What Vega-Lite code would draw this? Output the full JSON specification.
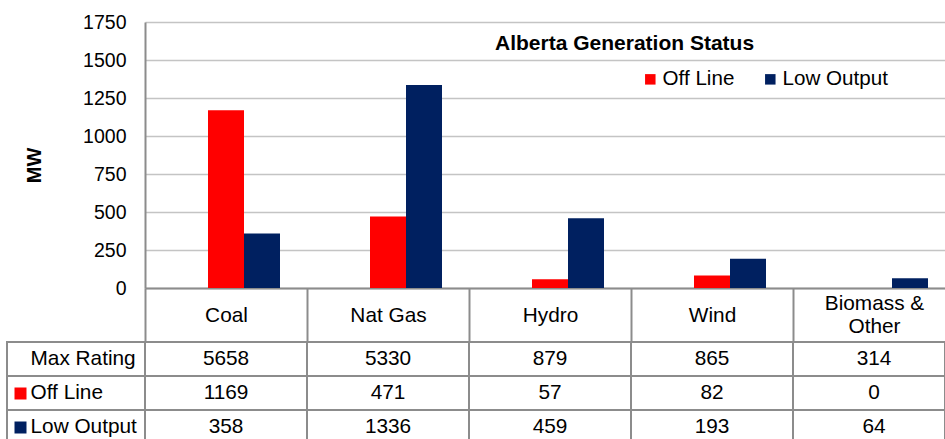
{
  "$schema": "https://vega.github.io/schema/vega-lite/v6.json",
  "width": 938,
  "height": 266,
  "autosize": {"type": "none"},
  "padding": {"left": 7, "top": 22, "right": 0, "bottom": 151},
  "background": "white",
  "config": {
    "font": "Liberation Sans",
    "view": {"stroke": null},
    "axis": {"labelColor": "#000000", "titleColor": "#000000"}
  },
  "title": {
    "text": "Alberta Generation Status",
    "fontSize": 21,
    "fontWeight": "bold",
    "color": "#000000",
    "anchor": "start",
    "frame": "group",
    "dx": 488,
    "offset": -42
  },
  "data": {
    "values": [
      {"cat": "Coal", "series": "Max Rating", "value": 5658},
      {"cat": "Coal", "series": "Off Line", "value": 1169},
      {"cat": "Coal", "series": "Low Output", "value": 358},
      {"cat": "Nat Gas", "series": "Max Rating", "value": 5330},
      {"cat": "Nat Gas", "series": "Off Line", "value": 471},
      {"cat": "Nat Gas", "series": "Low Output", "value": 1336},
      {"cat": "Hydro", "series": "Max Rating", "value": 879},
      {"cat": "Hydro", "series": "Off Line", "value": 57},
      {"cat": "Hydro", "series": "Low Output", "value": 459},
      {"cat": "Wind", "series": "Max Rating", "value": 865},
      {"cat": "Wind", "series": "Off Line", "value": 82},
      {"cat": "Wind", "series": "Low Output", "value": 193},
      {"cat": "Biomass & Other", "series": "Max Rating", "value": 314},
      {"cat": "Biomass & Other", "series": "Off Line", "value": 0},
      {"cat": "Biomass & Other", "series": "Low Output", "value": 64}
    ]
  },
  "layer": [
    {
      "transform": [{"filter": "datum.series !== 'Max Rating'"}],
      "mark": {"type": "bar"},
      "encoding": {
        "x": {
          "field": "cat",
          "type": "nominal",
          "scale": {
            "domain": ["Coal", "Nat Gas", "Hydro", "Wind", "Biomass & Other"],
            "range": [138, 948],
            "paddingInner": 0,
            "paddingOuter": 0
          },
          "axis": {
            "orient": "bottom",
            "title": null,
            "grid": false,
            "domain": true,
            "domainColor": "#8C8C8C",
            "domainWidth": 2,
            "ticks": true,
            "tickBand": "extent",
            "tickSize": 54,
            "tickColor": "#8C8C8C",
            "tickWidth": 2,
            "labelAngle": 0,
            "labelFontSize": 20.8,
            "labelBaseline": "middle",
            "labelPadding": {"condition": {"test": "datum.value === 'Biomass & Other'", "value": -39}, "value": -27},
            "labelLineHeight": 23,
            "labelExpr": "datum.label == 'Biomass & Other' ? ['Biomass &', 'Other'] : datum.label"
          }
        },
        "xOffset": {
          "field": "series",
          "type": "nominal",
          "scale": {
            "domain": ["Max Rating", "Off Line", "Low Output"],
            "paddingInner": 0,
            "paddingOuter": 0.75
          }
        },
        "y": {
          "field": "value",
          "type": "quantitative",
          "scale": {"domain": [0, 1750], "nice": false},
          "axis": {
            "orient": "left",
            "offset": -138,
            "values": [0, 250, 500, 750, 1000, 1250, 1500, 1750],
            "format": "d",
            "grid": true,
            "gridColor": "#C4C4C4",
            "gridWidth": 1.5,
            "domain": true,
            "domainColor": "#8C8C8C",
            "domainWidth": 2,
            "ticks": false,
            "labelPadding": 19,
            "labelFontSize": 19.5,
            "title": "MW",
            "titleFontSize": 20,
            "titleFontWeight": "bold",
            "titleAngle": -90,
            "titleAlign": "center",
            "titleBaseline": "middle",
            "titleX": -111,
            "titleY": 143
          }
        },
        "color": {
          "field": "series",
          "type": "nominal",
          "scale": {"domain": ["Off Line", "Low Output"], "range": ["#FF0000", "#002060"]},
          "legend": {
            "orient": "none",
            "legendX": 633,
            "legendY": 47,
            "direction": "horizontal",
            "title": null,
            "symbolType": "square",
            "symbolSize": 110,
            "symbolStrokeWidth": 0,
            "labelFontSize": 20.6,
            "labelColor": "#000000",
            "labelOffset": 2,
            "columnPadding": 25,
            "padding": 0
          }
        }
      }
    },
    {
      "layer": [
        {
          "mark": {"type": "rect", "fill": "white", "stroke": "#8C8C8C", "strokeWidth": 2},
          "encoding": {
            "y": {
              "field": "series",
              "type": "nominal",
              "scale": {
                "domain": ["Max Rating", "Off Line", "Low Output"],
                "range": [320, 422],
                "paddingInner": 0,
                "paddingOuter": 0
              },
              "axis": {
                "orient": "left",
                "offset": -19,
                "title": null,
                "grid": false,
                "domain": false,
                "ticks": true,
                "tickSize": 12,
                "tickWidth": 12,
                "tickColor": {"condition": {"test": "datum.value === 'Off Line'", "value": "#FF0000"}, "value": "#002060"},
                "tickOpacity": {"condition": {"test": "datum.value === 'Max Rating'", "value": 0}, "value": 1},
                "labelAlign": "left",
                "labelBaseline": "middle",
                "labelPadding": -16,
                "labelFontSize": 20.8,
                "labelColor": "#000000"
              }
            }
          }
        },
        {
          "mark": {"type": "rect", "fill": null, "fillOpacity": 0, "stroke": "#8C8C8C", "strokeWidth": 2},
          "encoding": {
            "x": {"field": "cat", "type": "nominal"},
            "y": {"field": "series", "type": "nominal"}
          }
        },
        {
          "mark": {"type": "text", "fontSize": 20.8, "color": "#000000", "baseline": "middle", "align": "center"},
          "encoding": {
            "x": {"field": "cat", "type": "nominal"},
            "y": {"field": "series", "type": "nominal"},
            "text": {"field": "value", "type": "quantitative", "format": "d"}
          }
        }
      ]
    }
  ],
  "resolve": {"scale": {"y": "independent"}, "axis": {"y": "independent"}}
}
